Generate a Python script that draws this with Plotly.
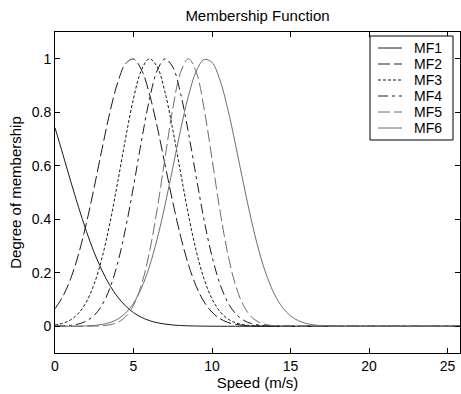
import plotly.graph_objects as go

# ---------------- data ----------------
speed = [0, 0.5, 1, 1.5, 2, 2.5, 3, 3.5, 4, 4.5, 5, 5.5, 6, 6.5, 7, 7.5, 8, 8.5, 9, 9.5,
         10, 10.5, 11, 11.5, 12, 12.5, 13, 13.5, 14, 14.5, 15, 15.5, 16, 16.5, 17, 17.5,
         18, 18.5, 19, 19.5, 20, 20.5, 21, 21.5, 22, 22.5, 23, 23.5, 24, 24.5, 25, 25.5, 26]

Z17 = [0.0] * 17  # helper padding of zero degrees

mf1 = [0.742, 0.643, 0.542, 0.445, 0.355, 0.275, 0.208, 0.152, 0.109, 0.0755, 0.051, 0.0335,
       0.0214, 0.0133, 0.008, 0.0047, 0.0027, 0.0015, 0.0008, 0.0004, 0.0002, 0, 0, 0, 0, 0,
       0, 0, 0, 0, 0, 0, 0, 0, 0, 0] + Z17
mf2 = [0.0657, 0.1114, 0.1783, 0.2696, 0.3854, 0.5204, 0.6641, 0.8007, 0.9123, 0.982, 0.9989,
       0.96, 0.8718, 0.7481, 0.6065, 0.4647, 0.3364, 0.2301, 0.1487, 0.0908, 0.0524, 0.0286,
       0.0147, 0.0072, 0.0033, 0.0014, 0.0006, 0.0002, 0, 0, 0, 0, 0, 0, 0, 0] + Z17
mf3 = [0.0048, 0.0111, 0.0241, 0.0486, 0.0911, 0.1587, 0.2569, 0.3867, 0.5412, 0.704, 0.8512,
       0.9568, 0.9996, 0.9709, 0.8765, 0.7355, 0.5738, 0.4161, 0.2804, 0.1757, 0.1023, 0.0554,
       0.0279, 0.013, 0.0057, 0.0023, 0.0009, 0.0003, 0, 0, 0, 0, 0, 0, 0, 0] + Z17
mf4 = [0.0005, 0.0013, 0.0035, 0.0086, 0.0195, 0.041, 0.0796, 0.143, 0.238, 0.3666, 0.5228,
       0.6902, 0.8436, 0.9544, 0.9996, 0.9692, 0.87, 0.7229, 0.5561, 0.396, 0.2611, 0.1593,
       0.09, 0.0471, 0.0228, 0.0102, 0.0042, 0.0016, 0.0006, 0.0002, 0, 0, 0, 0, 0, 0] + Z17
mf5 = [0, 0, 0, 0, 0.0002, 0.0006, 0.0018, 0.0055, 0.0148, 0.0358, 0.0782, 0.1537, 0.2723,
       0.435, 0.6261, 0.8121, 0.9493, 1.0, 0.9493, 0.8121, 0.6261, 0.435, 0.2723, 0.1537,
       0.0782, 0.0358, 0.0148, 0.0055, 0.0018, 0.0006, 0.0002, 0, 0, 0, 0, 0] + Z17
mf6 = [0, 0, 0.0002, 0.0005, 0.0013, 0.003, 0.0066, 0.0137, 0.0268, 0.0494, 0.0862, 0.1419,
       0.2208, 0.3247, 0.451, 0.5921, 0.7344, 0.8608, 0.9532, 0.9975, 0.9862, 0.9213, 0.8133,
       0.6784, 0.5347, 0.3982, 0.2801, 0.1863, 0.117, 0.0695, 0.039, 0.0207, 0.0103, 0.0049,
       0.0022, 0.0009] + Z17

names = ["MF1", "MF2", "MF3", "MF4", "MF5", "MF6"]
series = [mf1, mf2, mf3, mf4, mf5, mf6]
x_ticks = [0, 5, 10, 15, 20, 25]
y_ticks = [0, 0.2, 0.4, 0.6, 0.8, 1]
y_tick_text = ["0", "0.2", "0.4", "0.6", "0.8", "1"]

# ---------------- styles ----------------
colors = ["#1a1a1a", "#1a1a1a", "#1a1a1a", "#1a1a1a", "#6e6e6e", "#6e6e6e"]
dashes = ["solid", "12px,4px", "3px,2px", "10px,4px,3px,4px", "12px,4px", "solid"]
FONT = "Liberation Sans, Arial, Helvetica, sans-serif"

W, H = 461, 394
L, R, T, B = 55, 1, 32, 41
PW, PH = W - L - R, H - T - B


def px2paper_x(px):
    return (px - L) / PW


def px2paper_y(py):
    return (H - B - py) / PH


fig = go.Figure()
for name, ys, c, d in zip(names, series, colors, dashes):
    fig.add_trace(go.Scatter(x=speed, y=ys, name=name, mode="lines",
                             line=dict(color=c, width=1, dash=d, shape="spline"),
                             showlegend=False, hoverinfo="skip"))

# manual MATLAB-style legend box
shapes = [dict(type="rect", xref="paper", yref="paper",
               x0=px2paper_x(370), x1=px2paper_x(453),
               y0=px2paper_y(140), y1=px2paper_y(36),
               line=dict(color="black", width=1), fillcolor="white", layer="above")]
annotations = []
entry_y = [48, 64, 80, 96, 112, 128]
for name, c, d, ey in zip(names, colors, dashes, entry_y):
    shapes.append(dict(type="line", xref="paper", yref="paper",
                       x0=px2paper_x(378), x1=px2paper_x(402),
                       y0=px2paper_y(ey), y1=px2paper_y(ey),
                       line=dict(color=c, width=1, dash=d), layer="above"))
    annotations.append(dict(xref="paper", yref="paper", x=px2paper_x(412), y=px2paper_y(ey),
                            text=name, showarrow=False, xanchor="left", yanchor="middle",
                            font=dict(family=FONT, size=14, color="black")))

axis_common = dict(showline=True, linecolor="black", linewidth=1, mirror="allticks",
                   ticks="inside", ticklen=5, tickcolor="black", tickwidth=1,
                   showgrid=False, zeroline=False,
                   tickfont=dict(family=FONT, size=14, color="black"))

fig.update_layout(
    width=W, height=H,
    margin=dict(l=L, r=R, t=T, b=B, autoexpand=False),
    paper_bgcolor="white", plot_bgcolor="white",
    title=dict(text="Membership Function", x=0.5, xref="paper", xanchor="center",
               y=1 - 16 / H, yref="container", yanchor="middle",
               font=dict(family=FONT, size=15, color="black")),
    xaxis=dict(range=[0, PW / 15.7], tickvals=x_ticks, ticktext=[str(v) for v in x_ticks],
               title=dict(text="Speed (m/s)", standoff=2,
                          font=dict(family=FONT, size=15, color="black")),
               **axis_common),
    yaxis=dict(range=[-0.1, 1.1], tickvals=y_ticks, ticktext=y_tick_text,
               title=dict(text="Degree of membership", standoff=6,
                          font=dict(family=FONT, size=15, color="black")),
               **axis_common),
    shapes=shapes, annotations=annotations,
)

fig.write_html("out.html")
